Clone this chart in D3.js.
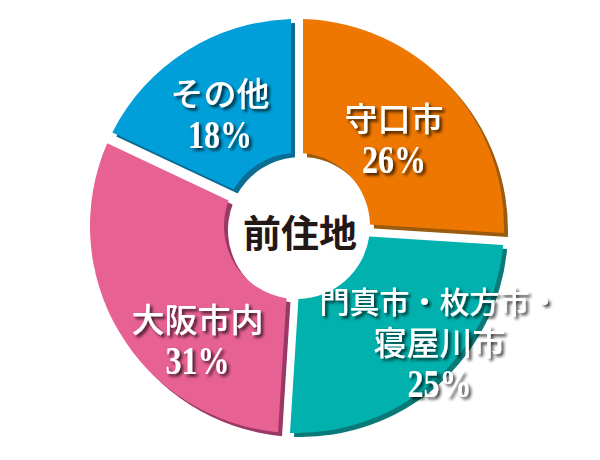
<!DOCTYPE html>
<html>
<head>
<meta charset="utf-8">
<script src="https://cdn.jsdelivr.net/npm/d3@7"></script>
<style>
  body { margin: 0; background: #fff; }
  svg { display: block; }
</style>
</head>
<body>
<svg id="chart" width="600" height="460"></svg>
<script>
// data
var categories = ["守口市", "門真市・枚方市・寝屋川市", "大阪市内", "その他"];
var labelLines = [["守口市"], ["門真市・枚方市・", "寝屋川市"], ["大阪市内"], ["その他"]];
var shares = [26, 25, 31, 18];
var centerTitle = "前住地";

var svg = d3.select("#chart");
var width = 600, height = 460;
var cx = 297, cy = 226;
var outerR = 207, innerR = 73;

var fill = d3.scaleOrdinal()
  .domain(categories)
  .range(["#ed7700", "#00b1ae", "#e86193", "#009fd9"]);
var shade = d3.scaleOrdinal()
  .domain(categories)
  .range(["#9a5b0e", "#097a77", "#9b3966", "#0b6d93"]);

// hand nudges for label blocks (from the slice centroid)
var labelNudge = d3.scaleOrdinal()
  .domain(categories)
  .range([[-5, 1], [50, -18], [21, 35], [-2, -2]]);

var defs = svg.append("defs");
var f = defs.append("filter").attr("id", "txtShadow")
  .attr("x", "-20%").attr("y", "-30%").attr("width", "140%").attr("height", "160%");
f.append("feDropShadow")
  .attr("dx", 2.5).attr("dy", 2.5).attr("stdDeviation", 1.6)
  .attr("flood-color", "#000").attr("flood-opacity", 0.75);

var pie = d3.pie().sort(null).value(function(d) { return d; });
var slices = pie(shares);

var arc = d3.arc()
  .innerRadius(innerR)
  .outerRadius(outerR)
  .padAngle(0.12)
  .padRadius(100);

var labelArc = d3.arc().innerRadius(140).outerRadius(140);

var g = svg.append("g").attr("transform", "translate(" + cx + "," + cy + ")");

// dark copies, shifted down-right
g.append("g").attr("transform", "translate(4,4)")
  .selectAll("path")
  .data(slices)
  .join("path")
  .attr("d", arc)
  .attr("fill", function(d, i) { return shade(categories[i]); });

g.append("g")
  .selectAll("path")
  .data(slices)
  .join("path")
  .attr("d", arc)
  .attr("fill", function(d, i) { return fill(categories[i]); });

// slice labels
var lineH = 42;
slices.forEach(function(s, i) {
  var c = labelArc.centroid(s);
  var n = labelNudge(categories[i]);
  var x = c[0] + n[0], y = c[1] + n[1];
  var lines = labelLines[i].concat([shares[i] + "%"]);
  var lg = g.append("g").attr("filter", "url(#txtShadow)");
  lines.forEach(function(t, j) {
    var isPct = j === lines.length - 1;
    var fs = isPct ? 40 : (t.length > 6 ? 30 : 33);
    lg.append("text")
      .attr("transform", "translate(" + x + "," + (y + j * lineH) + ")" + (isPct ? " scale(0.8,1)" : ""))
      .attr("text-anchor", "middle")
      .style("font-family", isPct ? "'Liberation Serif', serif" : "'Noto Sans CJK JP', sans-serif")
      .style("font-weight", isPct ? 700 : 500)
      .style("font-size", fs + "px")
      .style("fill", "#fff")
      .text(t);
  });
});

// centre title
g.append("text")
  .attr("x", 3)
  .attr("y", 4)
  .attr("text-anchor", "middle")
  .attr("dominant-baseline", "central")
  .style("font-family", "'Noto Sans CJK JP', sans-serif")
  .style("font-weight", 700)
  .style("font-size", "38px")
  .style("fill", "#231815")
  .text(centerTitle);
</script>
</body>
</html>
